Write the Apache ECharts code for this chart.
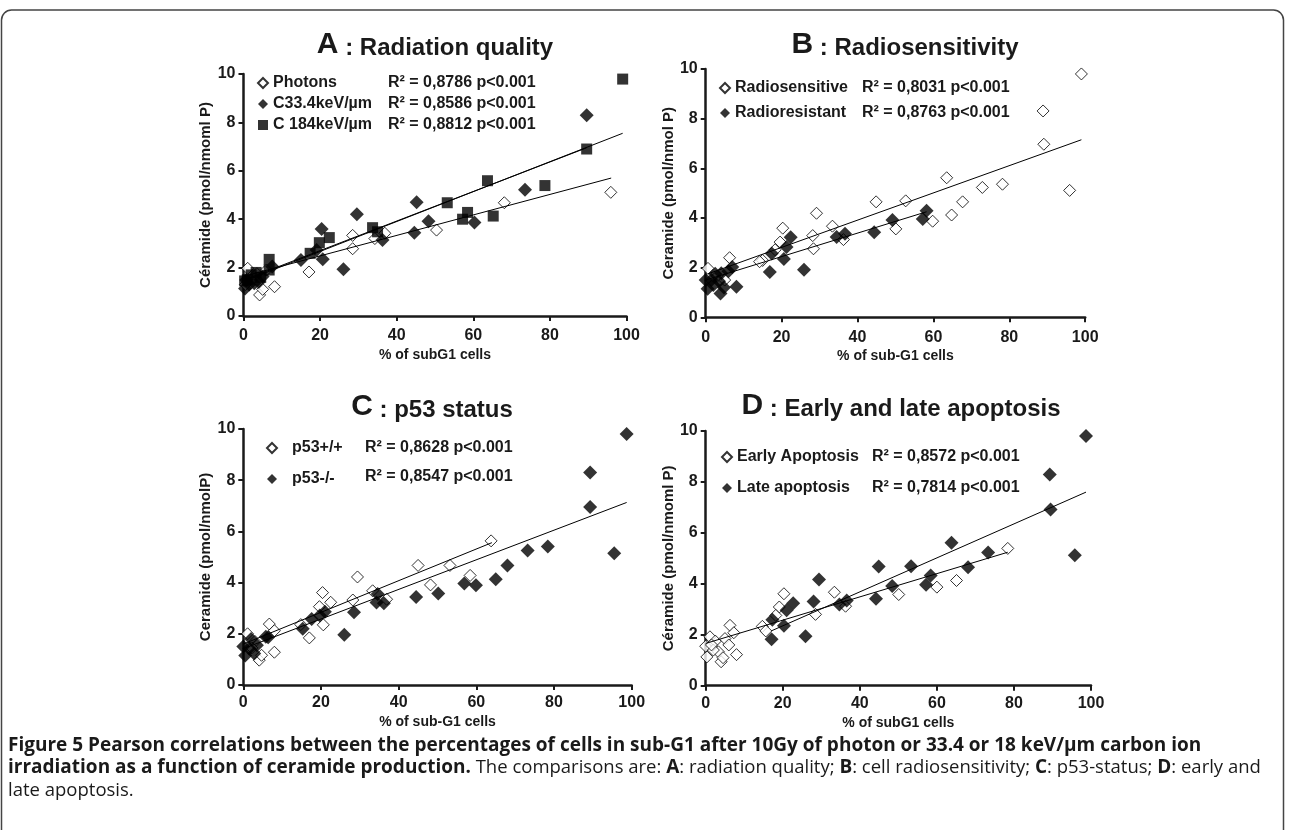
<!DOCTYPE html>
<html><head><meta charset="utf-8">
<script src="https://cdn.jsdelivr.net/npm/echarts@6/dist/echarts.min.js"></script>
<style>html,body{margin:0;padding:0;background:#fff}#c{width:1290px;height:830px}</style>
</head><body><div id="c"></div>
<script>
// ---------- Panel A : Radiation quality ----------
const photonsA = [[95.9,5.11],[68.1,4.68],[50.4,3.55],[36.9,3.42],[34.3,3.2],[28.5,3.33],[28.5,2.78],[17.1,1.82],[8.1,1.21],[4.2,0.87],[5,1.1],[1.1,1.97],[2.5,1.55],[3.5,1.75],[6,1.9],[0.5,1.3]];
const c33A = [[89.6,8.3],[73.5,5.22],[45.2,4.7],[29.6,4.2],[20.4,3.6],[48.3,3.92],[60.3,3.86],[44.6,3.44],[36.3,3.14],[26.1,1.93],[20.7,2.34],[15,2.31],[19.1,2.73],[0.4,1.14],[1.5,1.3],[2.8,1.35],[0.7,1.49],[5,1.63],[7.5,2.05],[4,1.4]];
const c184A = [[99,9.79],[89.6,6.9],[63.7,5.59],[78.7,5.39],[53.2,4.68],[58.5,4.28],[57.2,4.0],[65.2,4.13],[33.7,3.65],[35,3.48],[22.4,3.24],[19.8,3.03],[17.4,2.59],[6.7,2.34],[6.7,1.9],[3.3,1.8],[1,1.5],[2,1.7],[4.5,1.6],[0.3,1.45]];
const fitPhotonsA = [[0.3,1.65],[96,5.7]];
const fitC33A = [[0.3,1.5],[89.6,6.95]];
const fitC184A = [[0.3,1.45],[99,7.55]];
// ---------- Panel B : Radiosensitivity ----------
const sensB = [[99,9.8],[88.9,8.31],[89.1,6.97],[95.9,5.11],[63.5,5.62],[72.9,5.23],[78.2,5.36],[67.7,4.65],[64.8,4.12],[59.8,3.87],[52.7,4.69],[44.9,4.65],[50.1,3.56],[29.2,4.19],[33.4,3.67],[36.3,3.13],[28.2,3.29],[28.4,2.76],[20.3,3.59],[19.6,3.03],[18.3,2.72],[15,2.29],[14.2,2.24],[6.3,2.4],[0.6,1.97],[3,1.65],[5,1.5]];
const resB = [[58.2,4.29],[57.2,3.96],[49.2,3.92],[44.4,3.43],[36.7,3.36],[34.5,3.23],[22.4,3.22],[21.3,2.83],[20.6,2.35],[17.4,2.57],[16.9,1.82],[25.9,1.92],[8.1,1.23],[3.9,0.96],[7,2.03],[0,1.5],[0.5,1.15],[1.5,1.5],[2.5,1.75],[3.5,1.45],[4.1,1.77],[6,1.85],[2,1.3],[4.8,1.2]];
const fitSensB = [[0.6,1.75],[99,7.15]];
const fitResB = [[0,1.5],[58.2,4.25]];
// ---------- Panel C : p53 status ----------
const wtC = [[63.8,5.63],[53.2,4.67],[45,4.67],[58.4,4.28],[48.2,3.91],[36.9,3.35],[33.3,3.68],[29.4,4.22],[28.2,3.32],[20.4,3.61],[22.5,3.23],[19.6,3.06],[20.6,2.35],[14.8,2.36],[17,1.84],[6.7,2.38],[8,2.12],[8,1.28],[4.1,0.97],[4.7,1.16],[1.1,2.0],[3,1.7],[2.2,1.45]];
const koC = [[98.7,9.8],[89.3,8.3],[89.3,6.95],[95.5,5.15],[78.4,5.41],[73.2,5.25],[68,4.67],[65,4.13],[59.9,3.9],[56.9,3.96],[50.2,3.57],[44.5,3.44],[36.2,3.19],[34.6,3.55],[34.3,3.22],[28.5,2.84],[26,1.96],[21,2.86],[19.7,2.71],[17.6,2.58],[15.3,2.2],[6.4,1.87],[0,1.5],[0.5,1.15],[1.5,1.43],[2.8,1.23],[3.5,1.55],[5.8,1.88],[2,1.8]];
const fitWtC = [[0,1.6],[64,5.56]];
const fitKoC = [[0,1.42],[98.7,7.13]];
// ---------- Panel D : Early and late apoptosis ----------
const earlyD = [[78.4,5.39],[65.1,4.13],[60,3.87],[50.1,3.58],[33.4,3.67],[36.3,3.12],[28.5,2.8],[20.3,3.61],[19.1,3.09],[18.2,2.76],[14.7,2.33],[15.6,2.15],[6.3,2.37],[7.3,2.08],[8,1.22],[4,0.94],[3.3,1.33],[1.1,1.92],[0.3,1.13],[0,1.55],[2.5,1.75],[5,1.85],[4.5,1.1],[2,1.4],[6,1.6],[1.5,1.6]];
const lateD = [[98.7,9.8],[89.3,8.29],[89.5,6.92],[95.8,5.12],[63.8,5.61],[73.3,5.23],[68.1,4.65],[53.3,4.69],[44.9,4.68],[58.4,4.33],[57.2,3.96],[48.4,3.91],[44.2,3.41],[36.6,3.35],[34.7,3.19],[29.4,4.17],[28,3.31],[25.9,1.94],[22.7,3.24],[21,2.96],[20.3,2.35],[17.3,2.59],[17.1,1.82]];
const fitEarlyD = [[0,1.66],[78.4,5.24]];
const fitLateD = [[17,2.15],[98.7,7.6]];
// ---------- texts ----------
const panelTitles = [['A',' : Radiation quality'],['B',' : Radiosensitivity'],['C',' : p53 status'],['D',' : Early and late apoptosis']];
const xNames = ['% of subG1 cells','% of sub-G1 cells','% of sub-G1 cells','% of subG1 cells'];
const yNames = ['Céramide (pmol/nmoml P)','Ceramide (pmol/nmol P)','Ceramide (pmol/nmolP)','Céramide (pmol/nmoml P)'];
const legendNames = [['Photons','C33.4keV/µm','C 184keV/µm'],['Radiosensitive','Radioresistant'],['p53+/+','p53-/-'],['Early Apoptosis','Late apoptosis']];
const r2Texts = [['R² = 0,8786 p<0.001','R² = 0,8586 p<0.001','R² = 0,8812 p<0.001'],['R² = 0,8031 p<0.001','R² = 0,8763 p<0.001'],['R² = 0,8628 p<0.001','R² = 0,8547 p<0.001'],['R² = 0,8572 p<0.001','R² = 0,7814 p<0.001']];

const FONT = '"Liberation Sans", Arial, Helvetica, sans-serif';
const INK = '#1a1a1a';
const grids = [
  {left:243.5, top:74, width:383, height:242},
  {left:705.7, top:69, width:379.5, height:248.3},
  {left:243.3, top:429, width:388.4, height:256},
  {left:705.7, top:431, width:385.3, height:254.7}
];
const xLabelMargin = [12,12,10,10];
const xNameGap = [32,32,30,30];

const xAxes = grids.map((g,i)=>({
  type:'value', gridIndex:i, min:0, max:100, interval:20,
  name:xNames[i], nameLocation:'middle', nameGap:xNameGap[i],
  nameTextStyle:{fontFamily:FONT, fontWeight:'bold', fontSize:14, color:INK},
  axisLine:{show:true, onZero:false, lineStyle:{color:INK, width:2.5}},
  axisTick:{show:true, length:5, lineStyle:{color:INK, width:2}},
  axisLabel:{margin:xLabelMargin[i], fontFamily:FONT, fontWeight:'bold', fontSize:16, color:INK},
  splitLine:{show:false}
}));
const yAxes = grids.map((g,i)=>({
  type:'value', gridIndex:i, min:0, max:10, interval:2,
  name:yNames[i], nameLocation:'middle', nameGap:25, nameRotate:90,
  nameTextStyle:{fontFamily:FONT, fontWeight:'bold', fontSize:15, color:INK},
  axisLine:{show:true, onZero:false, lineStyle:{color:INK, width:2.5}},
  axisTick:{show:true, length:5, lineStyle:{color:INK, width:2}},
  axisLabel:{margin:8, fontFamily:FONT, fontWeight:'bold', fontSize:16, color:INK},
  splitLine:{show:false}
}));

const openD = {symbol:'diamond', symbolSize:12, itemStyle:{color:'#fff', borderColor:'#000', borderWidth:1}};
const fillD = {symbol:'diamond', symbolSize:14, itemStyle:{color:'#000'}};
const fillS = {symbol:'rect', symbolSize:11, itemStyle:{color:'#000'}};
function sc(name, data, i, st){ return Object.assign({type:'scatter', name, data, xAxisIndex:i, yAxisIndex:i, z:2}, JSON.parse(JSON.stringify(st))); }
function fit(name, data, i){ return {type:'line', name, data, xAxisIndex:i, yAxisIndex:i, showSymbol:false, symbol:'none', z:3, lineStyle:{color:'#000', width:1}, silent:true}; }

const series = [
  sc(legendNames[0][0], photonsA, 0, openD),
  sc(legendNames[0][1], c33A, 0, fillD),
  sc(legendNames[0][2], c184A, 0, fillS),
  fit('fitA1', fitPhotonsA, 0), fit('fitA2', fitC33A, 0), fit('fitA3', fitC184A, 0),
  sc(legendNames[1][0], sensB, 1, openD),
  sc(legendNames[1][1], resB, 1, fillD),
  fit('fitB1', fitSensB, 1), fit('fitB2', fitResB, 1),
  sc(legendNames[2][0], wtC, 2, openD),
  sc(legendNames[2][1], koC, 2, fillD),
  fit('fitC1', fitWtC, 2), fit('fitC2', fitKoC, 2),
  sc(legendNames[3][0], earlyD, 3, openD),
  sc(legendNames[3][1], lateD, 3, fillD),
  fit('fitD1', fitEarlyD, 3), fit('fitD2', fitLateD, 3)
];

const legendPos = [
  {left:257, top:75, gap:5, pad:0},
  {left:719, top:80, gap:9, pad:0},
  {left:266, top:440, gap:15, pad:10},
  {left:721, top:449, gap:15, pad:0}
];
const legends = legendPos.map((p,i)=>({
  data:legendNames[i], left:p.left, top:p.top, orient:'vertical', itemGap:p.gap,
  itemWidth:10, itemHeight:10, selectedMode:false, padding:0,
  textStyle:{fontFamily:FONT, fontWeight:'bold', fontSize:16, color:INK, lineHeight:16, padding:[0,0,0,p.pad]}
}));

const r2Pos = [{x:388, ys:[83,104,125]},{x:862, ys:[88,113]},{x:365, ys:[448,477]},{x:872, ys:[457,488]}];
const graphics = [];
r2Pos.forEach((p,i)=>{ p.ys.forEach((y,k)=>{ graphics.push({type:'text', x:p.x, y:y, style:{text:r2Texts[i][k], font:'bold 16px '+FONT, fill:INK, align:'left', verticalAlign:'middle'}}); }); });
const titlePos = [{x:435,y:45},{x:905,y:45},{x:432,y:407},{x:901,y:406}];
titlePos.forEach((p,i)=>{ graphics.push({type:'text', x:p.x, y:p.y, style:{text:'{a|'+panelTitles[i][0]+'}{b|'+panelTitles[i][1]+'}', align:'center', verticalAlign:'middle', fill:INK,
  rich:{a:{fontFamily:FONT, fontWeight:'bold', fontSize:30, color:INK, verticalAlign:'bottom'}, b:{fontFamily:FONT, fontWeight:'bold', fontSize:24, color:INK, verticalAlign:'bottom'}}}}); });
// caption
const CF = '"Open Sans", "Liberation Sans", Arial, sans-serif';
graphics.push({type:'text', x:8, y:734, style:{
  text:'{b|Figure 5 Pearson correlations between the percentages of cells in sub-G1 after 10Gy of photon or 33.4 or 18 keV/µm carbon ion}\n{b|irradiation as a function of ceramide production.}{r| The comparisons are: }{b|A}{r|: radiation quality; }{b|B}{r|: cell radiosensitivity; }{b|C}{r|: p53-status; }{b|D}{r|: early and}\n{r|late apoptosis.}',
  align:'left', verticalAlign:'top', fill:INK,
  rich:{b:{fontFamily:CF, fontWeight:'bold', fontSize:19, lineHeight:22.5, color:INK}, r:{fontFamily:CF, fontWeight:'normal', fontSize:18.5, lineHeight:22.5, color:'#444'}}}});
// frame
graphics.push({type:'rect', shape:{x:1.5, y:10, width:1282, height:840, r:10}, style:{fill:'none', stroke:'#444', lineWidth:1.5}, silent:true});

const chart = echarts.init(document.getElementById('c'), null, {renderer:'canvas'});
chart.setOption({
  backgroundColor:'#fff', animation:false,
  grid:grids, xAxis:xAxes, yAxis:yAxes, legend:legends, series:series, graphic:graphics
});
</script></body></html>
